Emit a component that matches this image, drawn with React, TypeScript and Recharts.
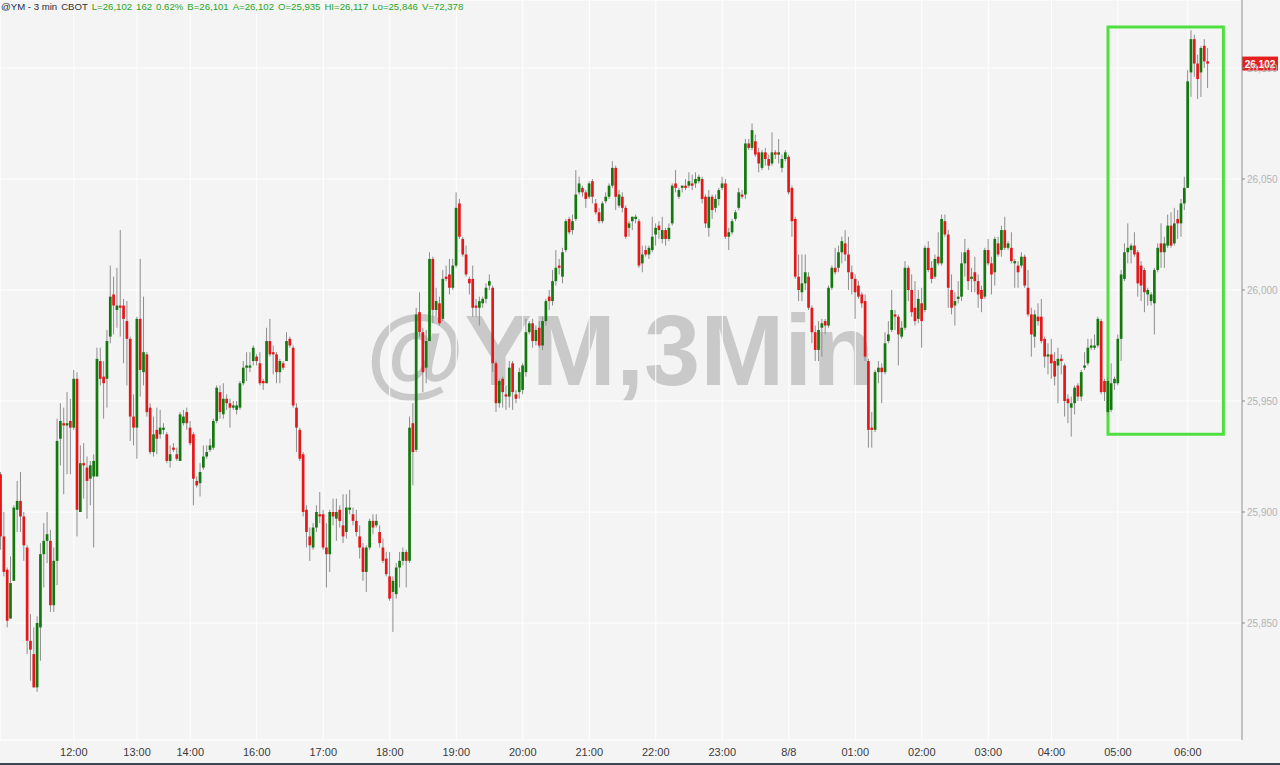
import React from 'react';
import { ComposedChart, Bar, XAxis, YAxis, CartesianGrid, ReferenceArea, ReferenceLine } from 'recharts';

// 3-min candles (oldest first)
const opens = [
  25917, 25889, 25874, 25852, 25869, 25901, 25905, 25898, 25884, 25842, 25836, 25821, 25848, 25881, 25887, 25887, 25858, 25878, 25933, 25940,
  25939, 25941, 25938, 25960, 25900, 25922, 25920, 25915, 25916, 25916, 25968, 25961, 25960, 25979, 25998, 25991, 25993, 25993, 25986, 25978,
  25943, 25938, 25987, 25963, 25971, 25947, 25927, 25937, 25935, 25937, 25935, 25923, 25929, 25926, 25923, 25940, 25945, 25938, 25935, 25914,
  25913, 25920, 25925, 25928, 25929, 25941, 25954, 25944, 25951, 25949, 25947, 25946, 25947, 25958, 25965, 25965, 25968, 25970, 25967, 25959,
  25958, 25977, 25972, 25971, 25963, 25967, 25968, 25978, 25974, 25947, 25937, 25926, 25901, 25889, 25884, 25893, 25899, 25899, 25884, 25881,
  25900, 25897, 25901, 25894, 25891, 25901, 25899, 25896, 25889, 25884, 25873, 25884, 25896, 25894, 25891, 25884, 25879, 25871, 25864, 25863,
  25875, 25878, 25882, 25878, 25940, 25928, 25990, 25981, 25965, 25977, 26014, 25991, 25994, 25987, 26006, 26007, 26001, 26011, 26039, 26023,
  26016, 26005, 26005, 25993, 25992, 25994, 25996, 26002, 26001, 25967, 25949, 25960, 25953, 25952, 25967, 25953, 25954, 25955, 25963, 25981,
  25985, 25977, 25983, 25975, 25986, 25997, 25995, 26004, 26011, 26006, 26018, 26032, 26027, 26032, 26044, 26046, 26044, 26042, 26049, 26039,
  26035, 26031, 26040, 26042, 26047, 26055, 26038, 26042, 26037, 26028, 26031, 26032, 26031, 26012, 26018, 26016, 26018, 26025, 26029, 26023,
  26027, 26023, 26030, 26048, 26042, 26046, 26047, 26047, 26048, 26048, 26049, 26050, 26042, 26028, 26042, 26037, 26041, 26046, 26048, 26024,
  26026, 26032, 26037, 26043, 26043, 26066, 26064, 26067, 26062, 26055, 26062, 26059, 26057, 26062, 26061, 26055, 26059, 26060, 26046, 26032,
  26006, 25999, 26003, 26006, 25992, 25981, 25973, 25983, 25986, 25984, 26001, 26010, 26010, 26017, 26021, 26016, 26008, 26005, 26002, 25998,
  25995, 25968, 25938, 25937, 25963, 25965, 25963, 25977, 25982, 25989, 25988, 25979, 25983, 26010, 26000, 25992, 25987, 25994, 25991, 26019,
  26010, 26006, 26015, 26012, 26031, 26025, 26000, 25993, 25996, 25997, 26012, 26018, 26005, 26008, 26004, 26000, 25997, 26018, 26012, 26008,
  26021, 26018, 26027, 26019, 26019, 26012, 26011, 26011, 26015, 26001, 25989, 25979, 25988, 25988, 25978, 25970, 25971, 25968, 25966, 25969,
  25966, 25951, 25947, 25949, 25957, 25952, 25965, 25967, 25974, 25974, 25975, 25986, 25959, 25945, 25946, 25958, 25958, 25978, 26005, 26017,
  26018, 26020, 26017, 26011, 26009, 25998, 25995, 25994, 26009, 26021, 26017, 26020, 26029, 26021, 26032, 26030, 26039, 26046, 26098, 26113,
  26102, 26098, 26110, 26103,
];
const highs = [
  25918, 25900, 25875, 25880, 25903, 25914, 25918, 25900, 25885, 25854, 25848, 25853, 25886, 25895, 25900, 25892, 25884, 25942, 25949, 25947,
  25954, 25951, 25964, 25963, 25930, 25931, 25925, 25923, 25926, 25974, 25974, 25968, 25982, 26011, 26006, 26010, 26027, 25996, 25995, 25979,
  25953, 25988, 26014, 25997, 25972, 25949, 25943, 25947, 25946, 25940, 25936, 25930, 25931, 25929, 25945, 25946, 25947, 25941, 25936, 25916,
  25922, 25930, 25930, 25933, 25942, 25957, 25957, 25958, 25953, 25951, 25950, 25950, 25959, 25968, 25972, 25972, 25975, 25971, 25972, 25960,
  25983, 25987, 25975, 25972, 25969, 25968, 25981, 25979, 25975, 25949, 25938, 25927, 25903, 25893, 25895, 25903, 25909, 25901, 25895, 25901,
  25906, 25906, 25903, 25908, 25908, 25910, 25902, 25901, 25894, 25886, 25885, 25897, 25899, 25899, 25894, 25888, 25882, 25882, 25871, 25877,
  25882, 25884, 25883, 25943, 25949, 25992, 25999, 25983, 25982, 26017, 26015, 26001, 25997, 26009, 26011, 26014, 26014, 26044, 26041, 26024,
  26020, 26006, 26011, 25996, 25997, 25997, 26003, 26007, 26002, 25968, 25960, 25961, 25957, 25968, 25968, 25955, 25965, 25967, 25987, 25986,
  25987, 25984, 25986, 25988, 25996, 26000, 26009, 26018, 26014, 26019, 26032, 26033, 26034, 26054, 26051, 26047, 26045, 26049, 26050, 26041,
  26037, 26040, 26044, 26048, 26058, 26056, 26045, 26044, 26038, 26031, 26033, 26034, 26032, 26020, 26020, 26020, 26033, 26030, 26031, 26033,
  26028, 26030, 26048, 26054, 26046, 26047, 26050, 26053, 26052, 26053, 26052, 26051, 26043, 26045, 26043, 26043, 26046, 26051, 26050, 26028,
  26032, 26036, 26046, 26045, 26068, 26068, 26075, 26070, 26064, 26063, 26064, 26061, 26071, 26063, 26068, 26061, 26063, 26061, 26047, 26033,
  26016, 26016, 26016, 26008, 25993, 25984, 25986, 25987, 25987, 26002, 26011, 26019, 26020, 26024, 26027, 26024, 26011, 26007, 26004, 25999,
  25998, 25969, 25945, 25964, 25968, 25967, 25981, 25986, 26000, 25991, 25989, 25986, 26013, 26011, 26007, 26004, 26000, 26001, 26020, 26022,
  26013, 26016, 26026, 26034, 26034, 26027, 26007, 25999, 26004, 26017, 26023, 26019, 26010, 26015, 26007, 26002, 26019, 26023, 26015, 26024,
  26024, 26029, 26033, 26022, 26026, 26014, 26013, 26017, 26016, 26009, 25992, 25991, 25994, 25996, 25979, 25976, 25978, 25972, 25974, 25971,
  25967, 25953, 25952, 25957, 25958, 25964, 25972, 25978, 25978, 25980, 25988, 25987, 25960, 25961, 25967, 25961, 25980, 26009, 26021, 26030,
  26021, 26026, 26018, 26013, 26010, 26001, 25999, 26010, 26021, 26030, 26024, 26034, 26035, 26037, 26036, 26041, 26051, 26099, 26117, 26115,
  26106, 26110, 26113, 26109,
];
const lows = [
  25883, 25871, 25848, 25852, 25869, 25891, 25891, 25878, 25836, 25824, 25821, 25819, 25833, 25866, 25877, 25855, 25855, 25867, 25921, 25908,
  25917, 25917, 25937, 25889, 25900, 25906, 25897, 25903, 25884, 25916, 25957, 25942, 25947, 25976, 25980, 25983, 25979, 25967, 25957, 25932,
  25930, 25924, 25952, 25957, 25943, 25926, 25925, 25926, 25933, 25935, 25922, 25920, 25927, 25923, 25923, 25939, 25937, 25930, 25903, 25911,
  25907, 25919, 25924, 25927, 25928, 25940, 25942, 25942, 25946, 25938, 25946, 25944, 25946, 25957, 25959, 25963, 25966, 25966, 25957, 25955,
  25958, 25970, 25962, 25958, 25958, 25964, 25968, 25974, 25947, 25927, 25923, 25898, 25884, 25878, 25883, 25891, 25895, 25883, 25866, 25873,
  25894, 25887, 25893, 25886, 25888, 25899, 25894, 25889, 25879, 25869, 25864, 25883, 25890, 25893, 25884, 25877, 25871, 25860, 25846, 25861,
  25866, 25876, 25866, 25877, 25912, 25927, 25979, 25954, 25958, 25977, 25985, 25988, 25984, 25986, 26004, 25998, 26000, 26010, 26023, 26015,
  26006, 25998, 25988, 25988, 25984, 25992, 25994, 26000, 25963, 25945, 25947, 25947, 25946, 25947, 25946, 25949, 25951, 25953, 25961, 25980,
  25974, 25975, 25974, 25973, 25984, 25991, 25993, 26002, 26007, 26003, 26017, 26025, 26025, 26031, 26043, 26042, 26037, 26041, 26039, 26034,
  26030, 26030, 26039, 26041, 26046, 26036, 26037, 26035, 26023, 26024, 26027, 26030, 26010, 26008, 26015, 26014, 26017, 26020, 26023, 26021,
  26020, 26022, 26029, 26044, 26041, 26044, 26045, 26046, 26045, 26046, 26048, 26039, 26028, 26024, 26032, 26035, 26038, 26045, 26023, 26018,
  26025, 26031, 26036, 26041, 26041, 26063, 26063, 26060, 26053, 26054, 26056, 26054, 26056, 26059, 26057, 26053, 26058, 26043, 26024, 26005,
  25995, 25995, 26000, 25991, 25976, 25968, 25968, 25970, 25980, 25983, 26000, 26007, 26008, 26012, 26013, 26000, 25998, 25987, 25996, 25992,
  25968, 25929, 25929, 25936, 25958, 25949, 25962, 25976, 25981, 25982, 25966, 25978, 25982, 25995, 25988, 25984, 25985, 25974, 25990, 26008,
  26003, 26005, 26011, 26011, 26024, 25992, 25989, 25984, 25994, 25995, 26006, 26000, 25999, 25999, 25992, 25990, 25996, 26011, 25998, 26002,
  26015, 26015, 26018, 26018, 26012, 26001, 26001, 26010, 26001, 25988, 25970, 25974, 25984, 25976, 25965, 25962, 25960, 25957, 25949, 25962,
  25943, 25940, 25934, 25944, 25950, 25950, 25964, 25966, 25973, 25973, 25974, 25953, 25950, 25943, 25945, 25955, 25957, 25968, 26004, 26012,
  26012, 26015, 25997, 25995, 25990, 25993, 25993, 25980, 26008, 26010, 26010, 26019, 26019, 26020, 26023, 26024, 26036, 26046, 26087, 26096,
  26086, 26087, 26100, 26091,
];
const closes = [
  25889, 25873, 25851, 25868, 25902, 25905, 25898, 25885, 25842, 25838, 25821, 25850, 25881, 25887, 25890, 25858, 25878, 25932, 25941, 25939,
  25940, 25938, 25960, 25901, 25922, 25921, 25914, 25921, 25923, 25969, 25960, 25958, 25977, 25997, 25993, 25993, 25992, 25987, 25978, 25943,
  25938, 25987, 25964, 25972, 25945, 25927, 25935, 25933, 25938, 25938, 25923, 25926, 25928, 25924, 25944, 25943, 25940, 25931, 25915, 25912,
  25918, 25925, 25927, 25930, 25941, 25956, 25945, 25951, 25949, 25947, 25948, 25948, 25958, 25965, 25966, 25966, 25974, 25968, 25958, 25958,
  25977, 25971, 25971, 25963, 25968, 25965, 25977, 25975, 25948, 25938, 25924, 25900, 25891, 25885, 25893, 25900, 25898, 25884, 25881, 25900,
  25898, 25900, 25896, 25889, 25902, 25902, 25896, 25891, 25884, 25873, 25884, 25896, 25893, 25896, 25886, 25878, 25872, 25861, 25869, 25875,
  25878, 25882, 25878, 25938, 25927, 25989, 25981, 25963, 25977, 26014, 25991, 25995, 25985, 26005, 26005, 26001, 26011, 26037, 26024, 26016,
  26007, 26003, 25992, 25992, 25995, 25996, 26001, 26004, 25967, 25949, 25959, 25954, 25952, 25965, 25954, 25951, 25963, 25966, 25981, 25985,
  25977, 25982, 25975, 25986, 25995, 25995, 26004, 26010, 26010, 26017, 26031, 26026, 26031, 26043, 26048, 26044, 26041, 26048, 26042, 26035,
  26031, 26039, 26042, 26047, 26055, 26042, 26043, 26037, 26024, 26030, 26033, 26033, 26011, 26016, 26016, 26019, 26024, 26028, 26027, 26027,
  26023, 26028, 26047, 26046, 26045, 26047, 26046, 26049, 26047, 26050, 26051, 26041, 26030, 26042, 26036, 26041, 26045, 26048, 26024, 26026,
  26031, 26035, 26044, 26042, 26066, 26064, 26072, 26061, 26057, 26062, 26059, 26056, 26062, 26061, 26062, 26059, 26062, 26044, 26031, 26006,
  26000, 26003, 26008, 25992, 25981, 25973, 25982, 25985, 25984, 26001, 26010, 26008, 26017, 26022, 26016, 26008, 26005, 25999, 25997, 25994,
  25970, 25937, 25937, 25963, 25965, 25963, 25976, 25980, 25991, 25988, 25980, 25983, 26010, 26000, 25990, 25986, 25996, 25986, 26019, 26009,
  26005, 26014, 26012, 26032, 26025, 26001, 25992, 25995, 25997, 26012, 26017, 26004, 26006, 26004, 25998, 25996, 26018, 26012, 26007, 26023,
  26016, 26027, 26019, 26021, 26013, 26013, 26008, 26015, 26002, 25989, 25980, 25989, 25986, 25977, 25970, 25971, 25967, 25961, 25969, 25968,
  25950, 25949, 25949, 25956, 25952, 25963, 25966, 25974, 25975, 25975, 25987, 25954, 25954, 25959, 25958, 25960, 25978, 26007, 26017, 26019,
  26020, 26016, 26003, 26002, 25999, 26000, 25998, 26009, 26019, 26017, 26021, 26029, 26020, 26030, 26030, 26039, 26046, 26094, 26113, 26102,
  26095, 26109, 26103, 26102,
];

// x-axis: candle index of each hour mark and its label
const hourIdx = [22, 41, 57, 77, 97, 117, 137, 157, 177, 197, 217, 237, 257, 277, 297, 316, 336, 357];
const hourLabels = ['12:00', '13:00', '14:00', '16:00', '17:00', '18:00', '19:00', '20:00', '21:00', '22:00', '23:00', '8/8', '01:00', '02:00', '03:00', '04:00', '05:00', '06:00'];
const priceTicks = [25850, 25900, 25950, 26000, 26050, 26100];
const lastPrice = 26102;

// highlighted box (index range, price range)
const boxIdx = [333, 367.7];
const boxPrice = [25935, 26118.5];

const data = opens.map((o, i) => ({ i, open: o, high: highs[i], low: lows[i], close: closes[i] }));

const FONT = '"Liberation Sans", Arial, sans-serif';

const Candle = (props: any) => {
  const { x, y, width, height, payload } = props;
  if (!payload) return null;
  const { open, close, high, low } = payload;
  const cx = x + width / 2;
  const k = high > low ? height / (high - low) : 0;
  const yO = y + (high - open) * k;
  const yC = y + (high - close) * k;
  const up = close >= open;
  const top = Math.min(yO, yC);
  const h = Math.max(Math.abs(yO - yC), 1.2);
  return (
    <g>
      <line x1={cx} x2={cx} y1={y} y2={y + height} stroke="#8e8e8e" strokeWidth={1} />
      <rect x={cx - 1.35} y={top} width={2.7} height={h} fill={up ? '#14780f' : '#e3181b'} />
    </g>
  );
};

const PriceTag = (p: any) => {
  const vb = p.viewBox;
  if (!vb) return null;
  const xx = vb.x + vb.width;
  const yy = vb.y;
  return (
    <g>
      <rect x={xx} y={yy - 7} width={36} height={14} fill="#e3201d" />
      <text x={xx + 18} y={yy + 4} textAnchor="middle" fill="#ffffff" fontSize={10} fontWeight="bold" fontFamily={FONT}>
        {lastPrice.toLocaleString('en-US')}
      </text>
    </g>
  );
};

const header = [
  { t: '@YM - 3 min', c: '#1d2a44' },
  { t: 'CBOT', c: '#333333' },
  { t: 'L=26,102', c: '#1fa51f' },
  { t: '162', c: '#1fa51f' },
  { t: '0.62%', c: '#1fa51f' },
  { t: 'B=26,101', c: '#1fa51f' },
  { t: 'A=26,102', c: '#1fa51f' },
  { t: 'O=25,935', c: '#1fa51f' },
  { t: 'HI=26,117', c: '#1fa51f' },
  { t: 'Lo=25,846', c: '#1fa51f' },
  { t: 'V=72,378', c: '#1fa51f' },
];

export default function App() {
  return (
    <div style={{ position: 'absolute', left: 0, top: 0, width: 1280, height: 765, background: '#f4f4f4', overflow: 'hidden', fontFamily: FONT }}>
      <svg width={1280} height={765} style={{ position: 'absolute', left: 0, top: 0 }}>
        <text x={620} y={385} textAnchor="middle" fontSize={101} fontWeight="bold" fill="#c9c9c9" fontFamily={FONT}>
          @YM,3Min
        </text>
      </svg>
      <div style={{ position: 'absolute', left: 0, top: 0 }}>
        <ComposedChart width={1280} height={765} data={data} margin={{ top: 0, right: 0, bottom: 0, left: 0 }}>
          <CartesianGrid stroke="#ffffff" strokeWidth={1} />
          <XAxis
            dataKey="i"
            type="number"
            domain={[-0.21, 373.3]}
            ticks={hourIdx}
            tickFormatter={(v: number) => hourLabels[hourIdx.indexOf(v)] ?? ''}
            height={25}
            axisLine={false}
            tickLine={false}
            tickMargin={2}
            tick={{ fill: '#3a3a3a', fontSize: 11, fontFamily: FONT }}
            allowDataOverflow
            interval={0}
          />
          <YAxis
            orientation="right"
            width={38}
            domain={[25797.3, 26130.63]}
            ticks={priceTicks}
            tickFormatter={(v: number) => v.toLocaleString('en-US')}
            axisLine={{ stroke: '#8a8a8a' }}
            tickLine={{ stroke: '#8a8a8a' }}
            tickSize={3}
            tickMargin={2}
            tick={{ fill: '#b3b3b3', fontSize: 10, fontFamily: FONT, textAnchor: 'start' }}
            allowDataOverflow
            interval={0}
          />
          <Bar
            dataKey={(d: any) => [d.low, d.high]}
            barSize={3}
            shape={<Candle />}
            isAnimationActive={false}
          />
          <ReferenceArea
            x1={boxIdx[0]}
            x2={boxIdx[1]}
            y1={boxPrice[0]}
            y2={boxPrice[1]}
            fill="none"
            fillOpacity={0}
            stroke="#4fe03f"
            strokeWidth={3}
          />
          <ReferenceLine y={lastPrice} stroke="none" label={<PriceTag />} />
        </ComposedChart>
      </div>
      <div style={{ position: 'absolute', left: 1, top: 1, fontSize: 9.6, whiteSpace: 'nowrap', display: 'flex', gap: 4 }}>
        {header.map((h, k) => (
          <span key={k} style={{ color: h.c }}>{h.t}</span>
        ))}
      </div>
      <div style={{ position: 'absolute', left: 0, top: 763, width: 1280, height: 2, background: '#3d4556' }} />
    </div>
  );
}
